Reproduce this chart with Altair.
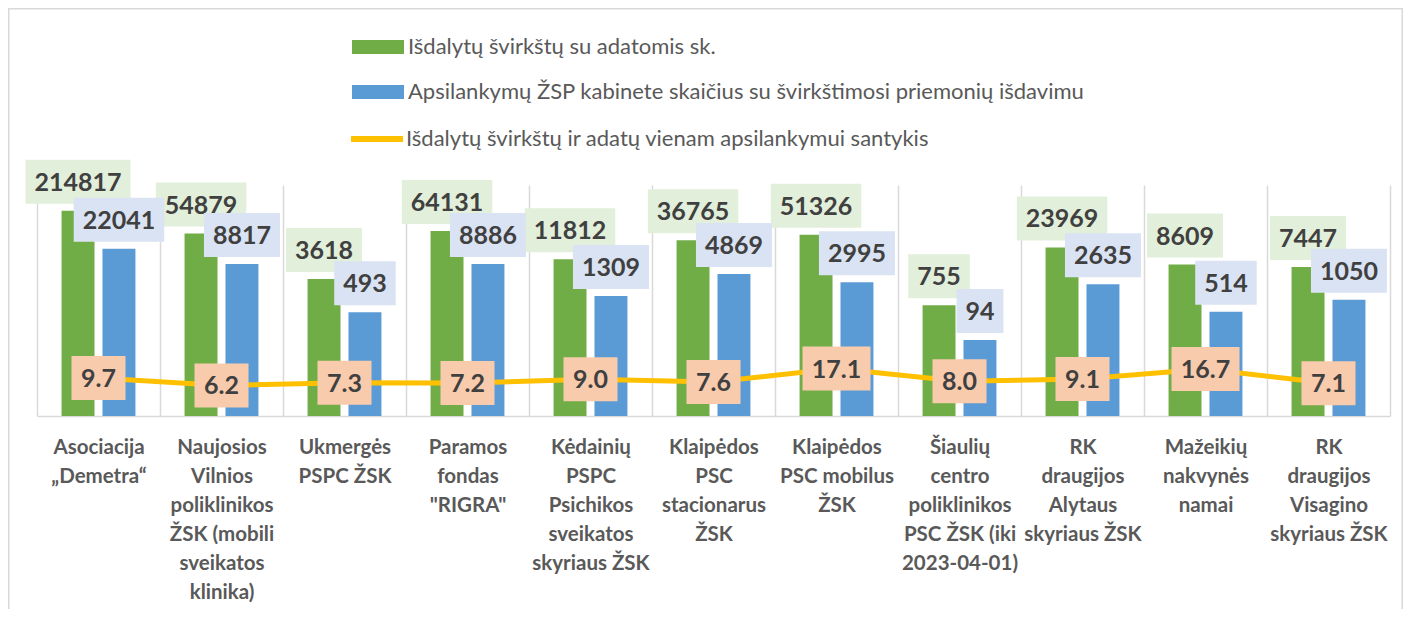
import altair as alt
import pandas as pd

categories = [
    "Asociacija\n„Demetra“",
    "Naujosios\nVilnios\npoliklinikos\nŽSK (mobili\nsveikatos\nklinika)",
    "Ukmergės\nPSPC ŽSK",
    "Paramos\nfondas\n\"RIGRA\"",
    "Kėdainių\nPSPC\nPsichikos\nsveikatos\nskyriaus ŽSK",
    "Klaipėdos\nPSC\nstacionarus\nŽSK",
    "Klaipėdos\nPSC mobilus\nŽSK",
    "Šiaulių\ncentro\npoliklinikos\nPSC ŽSK (iki\n2023-04-01)",
    "RK\ndraugijos\nAlytaus\nskyriaus ŽSK",
    "Mažeikių\nnakvynės\nnamai",
    "RK\ndraugijos\nVisagino\nskyriaus ŽSK",
]
syringes = [214817, 54879, 3618, 64131, 11812, 36765, 51326, 755, 23969, 8609, 7447]
visits = [22041, 8817, 493, 8886, 1309, 4869, 2995, 94, 2635, 514, 1050]
ratios = [9.7, 6.2, 7.3, 7.2, 9.0, 7.6, 17.1, 8.0, 9.1, 16.7, 7.1]
series_names = [
    "Išdalytų švirkštų su adatomis sk.",
    "Apsilankymų ŽSP kabinete skaičius su švirkštimosi priemonių išdavimu",
    "Išdalytų švirkštų ir adatų vienam apsilankymui santykis",
]

bars_df = pd.DataFrame({
    "category": categories * 2,
    "series": [series_names[0]] * len(categories) + [series_names[1]] * len(categories),
    "value": syringes + visits,
})
ratio_df = pd.DataFrame({"category": categories, "series": series_names[2], "value": ratios})

W, H = 1353, 231
TXT = "#404040"

axis_x = alt.Axis(
    title=None, labelExpr="split(datum.label, '\\n')", labelAngle=0,
    labelFont="Lato", labelFontWeight="bold", labelFontSize=20.5, labelColor="#595959",
    labelLineHeight=29, labelPadding=21, labelBaseline="top", labelLimit=0,
    ticks=False, grid=True, gridColor="#D9D9D9", gridWidth=1.5, tickBand="extent",
    domainColor="#D9D9D9", domainWidth=1.5,
)
x_enc = alt.X("category:N", sort=categories,
              scale=alt.Scale(paddingInner=0, paddingOuter=0), axis=axis_x)
xo_enc = alt.XOffset("series:N", sort=series_names[:2],
                     scale=alt.Scale(domain=series_names[:2], paddingInner=0.195, paddingOuter=0.6))
yscale = alt.Scale(type="log", domain=[1, 1000000], nice=False)
y_enc = alt.Y("value:Q", scale=yscale, axis=None)

bar_legend = alt.Legend(
    title=None, orient="none", legendX=330, legendY=-149, direction="vertical",
    labelFont="Lato", labelFontSize=22, labelColor="#595959", labelLimit=0,
    symbolSize=196, symbolType="M-3.714,-1H3.714V1H-3.714Z", symbolOpacity=1,
    rowPadding=23, labelOffset=19, padding=0,
)
line_legend = alt.Legend(
    title=None, orient="none", legendX=311, legendY=-75, direction="vertical",
    labelFont="Lato", labelFontSize=22, labelColor="#595959", labelLimit=0,
    symbolSize=2704, symbolType="stroke", symbolStrokeWidth=6, symbolOpacity=1,
    labelOffset=0, padding=0,
)
color_enc = alt.Color("series:N",
                      scale=alt.Scale(domain=series_names[:2], range=["#70AD47", "#5B9BD5"]),
                      legend=bar_legend)
stroke_enc = alt.Stroke("series:N",
                        scale=alt.Scale(domain=series_names[2:], range=["#FFC000"]),
                        legend=line_legend)

def box_path(w):
    a = round(w / 44.0, 4)
    return f"M{-a},-1H{a}V1H{-a}Z"

shape_keys = ["b2", "b3", "b4", "b5", "b6", "r3", "r4"]
shape_widths = [47, 61.5, 76, 90.5, 105, 54, 68]
shape_scale = alt.Scale(domain=shape_keys, range=[box_path(w) for w in shape_widths])

frame = alt.Chart(pd.DataFrame({"k": [0]})).mark_rect(
    fill="transparent", stroke="#D9D9D9", strokeWidth=1.5
).encode(x=alt.value(-28.25), x2=alt.value(W + 12.25), y=alt.value(-176.25), y2=alt.value(H + 250))

bars = alt.Chart(bars_df).mark_bar().encode(
    x=x_enc, xOffset=xo_enc, y=y_enc, y2=alt.datum(1), color=color_enc)

line = alt.Chart(ratio_df).mark_line(strokeWidth=5, strokeCap="round").encode(
    x=x_enc, y=y_enc, stroke=stroke_enc)

label_layers = []
bg_colors = ["#E2EFDA", "#DAE3F3"]
for s, bg in zip(series_names[:2], bg_colors):
    base = alt.Chart(bars_df).transform_filter(alt.datum.series == s).transform_calculate(
        lab="format(datum.value, 'd')",
        key="'b' + length(format(datum.value, 'd'))",
    )
    boxes = base.mark_point(filled=True, opacity=1, size=1936, strokeWidth=0, yOffset=-29,
                            fill=bg).encode(
        x=x_enc, xOffset=xo_enc, y=y_enc,
        shape=alt.Shape("key:N", scale=shape_scale, legend=None))
    texts = base.mark_text(font="Lato", fontWeight="bold", fontSize=25, color=TXT,
                           baseline="middle", yOffset=-28).encode(
        x=x_enc, xOffset=xo_enc, y=y_enc, text="lab:N")
    label_layers += [boxes, texts]

rbase = alt.Chart(ratio_df).transform_calculate(
    lab="format(datum.value, '.1f')",
    key="'r' + length(format(datum.value, '.1f'))",
)
rboxes = rbase.mark_point(filled=True, opacity=1, size=1936, strokeWidth=0, fill="#F8CBAD").encode(
    x=x_enc, y=y_enc, shape=alt.Shape("key:N", scale=shape_scale, legend=None))
rtexts = rbase.mark_text(font="Lato", fontWeight="bold", fontSize=25, color=TXT,
                         baseline="middle", yOffset=1).encode(x=x_enc, y=y_enc, text="lab:N")

chart = alt.layer(frame, bars, line, *label_layers, rboxes, rtexts).properties(
    width=W, height=H,
    autosize=alt.AutoSizeParams(type="none"),
    padding={"left": 29, "top": 177, "right": 13, "bottom": 193},
    background="white",
).configure_view(stroke=None)

chart.save("out.html", embed_options={"renderer": "svg", "actions": False})
